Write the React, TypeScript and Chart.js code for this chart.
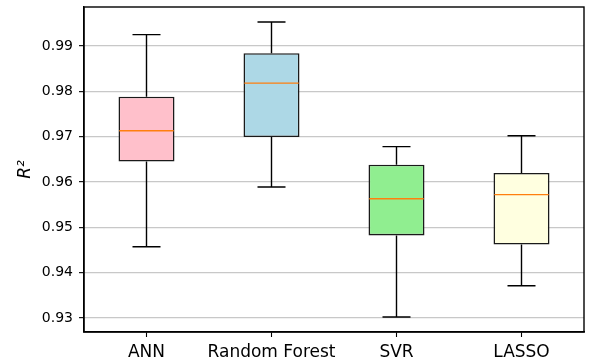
import React, { useEffect, useRef } from "react";
import { Chart, registerables } from "chart.js";

Chart.register(...registerables);

const categories = ["ANN", "Random Forest", "SVR", "LASSO"];
const whiskerLow = [0.9457, 0.9589, 0.9302, 0.9371];
const q1 = [0.9645, 0.9699, 0.9482, 0.9462];
const median = [0.9713, 0.9818, 0.9563, 0.9572];
const q3 = [0.9788, 0.9884, 0.9638, 0.962];
const whiskerHigh = [0.9925, 0.9953, 0.9678, 0.9702];
const boxColors = ["#ffc0cb", "#add8e6", "#90ee90", "#ffffe0"];
const yTicks = [0.93, 0.94, 0.95, 0.96, 0.97, 0.98, 0.99];
const yMin = 0.9269;
const yMax = 0.9986;

const boxExtras = {
  id: "boxExtras",
  afterDatasetsDraw(chart: any) {
    const { ctx, scales, chartArea } = chart;
    const x = scales.x;
    const y = scales.y;
    const meta = chart.getDatasetMeta(0);
    ctx.save();
    ctx.lineCap = "butt";
    categories.forEach((_, i) => {
      const bar: any = meta.data[i];
      const cx = x.getPixelForValue(i);
      const half = bar.width / 2;
      ctx.strokeStyle = "#000";
      ctx.lineWidth = 1.4;
      ctx.beginPath();
      ctx.moveTo(cx, y.getPixelForValue(q3[i]));
      ctx.lineTo(cx, y.getPixelForValue(whiskerHigh[i]));
      ctx.moveTo(cx, y.getPixelForValue(q1[i]));
      ctx.lineTo(cx, y.getPixelForValue(whiskerLow[i]));
      const yh = y.getPixelForValue(whiskerHigh[i]);
      const yl = y.getPixelForValue(whiskerLow[i]);
      ctx.moveTo(cx - half / 2, yh);
      ctx.lineTo(cx + half / 2, yh);
      ctx.moveTo(cx - half / 2, yl);
      ctx.lineTo(cx + half / 2, yl);
      ctx.stroke();
      ctx.strokeStyle = "#ff7f0e";
      ctx.beginPath();
      const ym = y.getPixelForValue(median[i]);
      ctx.moveTo(cx - half + 0.8, ym);
      ctx.lineTo(cx + half - 0.8, ym);
      ctx.stroke();
    });
    ctx.strokeStyle = "#000";
    ctx.lineWidth = 1.4;
    ctx.strokeRect(
      chartArea.left,
      chartArea.top,
      chartArea.right - chartArea.left,
      chartArea.bottom - chartArea.top
    );
    ctx.restore();
  },
};

export default function App() {
  const ref = useRef<HTMLCanvasElement>(null);
  useEffect(() => {
    document.body.style.margin = "0";
    Chart.defaults.font.family = "'DejaVu Sans', sans-serif";
    Chart.defaults.color = "#000";
    const chart = new Chart(ref.current as HTMLCanvasElement, {
      type: "bar",
      data: {
        labels: categories,
        datasets: [
          {
            data: categories.map((_, i) => [q1[i], q3[i]]) as any,
            backgroundColor: boxColors,
            borderColor: "#1a1a1a",
            borderWidth: 1.6,
            borderSkipped: false,
            categoryPercentage: 1,
            barPercentage: 0.448,
          },
        ],
      },
      options: {
        animation: false,
        responsive: false,
        layout: { padding: { top: 7, right: 5, left: 0, bottom: 0 } },
        plugins: { legend: { display: false }, tooltip: { enabled: false } },
        scales: {
          x: {
            afterFit: (s: any) => {
              s.height = 29;
              s.paddingLeft = 0;
              s.paddingRight = 0;
            },
            grid: {
              offset: false,
              drawOnChartArea: false,
              tickLength: 5,
              tickColor: "#000",
              tickWidth: 1.1,
            },
            border: { display: true, color: "#000", width: 1.4 },
            ticks: {
              font: { size: 17 },
              padding: 5,
              color: "#000",
              maxRotation: 0,
              minRotation: 0,
              autoSkip: false,
            },
          },
          y: {
            min: yMin,
            max: yMax,
            afterFit: (s: any) => {
              s.width = 84;
              s.paddingTop = 0;
              s.paddingBottom = 0;
            },
            afterBuildTicks: (s: any) => {
              s.ticks = yTicks.map((v) => ({ value: v }));
            },
            grid: {
              color: "#c8c8c8",
              lineWidth: 1.3,
              tickLength: 5,
              tickColor: "#000",
              tickWidth: 1.1,
            },
            border: { display: true, color: "#000", width: 1.4 },
            ticks: {
              font: { size: 14 },
              padding: 6,
              color: "#000",
              callback: (v: any) => Number(v).toFixed(2),
            },
            title: {
              display: true,
              text: "R²",
              font: { size: 17, style: "italic" },
              color: "#000",
              padding: { top: 15, bottom: 0 },
            },
          },
        },
      },
      plugins: [boxExtras],
    });
    return () => chart.destroy();
  }, []);
  return (
    <div style={{ position: "absolute", left: 0, top: 0, width: 589, height: 361 }}>
      <canvas ref={ref} width={589} height={361} style={{ display: "block" }} />
    </div>
  );
}
